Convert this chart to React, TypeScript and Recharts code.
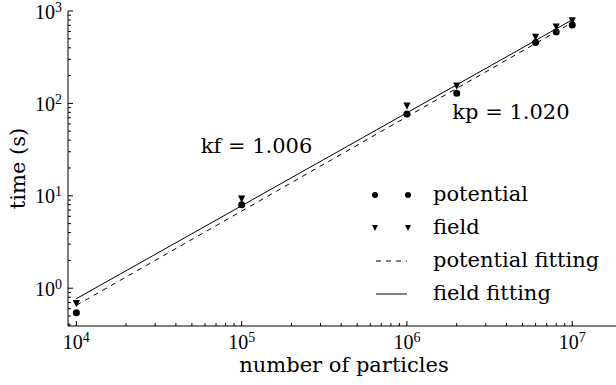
import React from 'react';
import { ComposedChart, XAxis, YAxis, Scatter, Line, Legend, ReferenceDot } from 'recharts';

// ---- data ----
const particles = [1e4, 1e5, 1e6, 2e6, 6e6, 8e6, 1e7];
const potentialTime = [0.544, 8.0, 77, 129, 456, 592, 705];
const fieldTime = [0.68, 9.2, 93.5, 154, 520, 671, 783];
const fitParticles = [1e4, 1e7];
const potentialFitTime = [0.653, 750];
const fieldFitTime = [0.77, 803];

const xMajorTicks = [1e4, 1e5, 1e6, 1e7];
const xMinorTicks = [
  9e3,
  2e4, 3e4, 4e4, 5e4, 6e4, 7e4, 8e4, 9e4,
  2e5, 3e5, 4e5, 5e5, 6e5, 7e5, 8e5, 9e5,
  2e6, 3e6, 4e6, 5e6, 6e6, 7e6, 8e6, 9e6,
  2e7,
];
const yMajorTicks = [1, 10, 100, 1000];
const yMinorTicks = [
  0.4, 0.5, 0.6, 0.7, 0.8, 0.9,
  2, 3, 4, 5, 6, 7, 8, 9,
  20, 30, 40, 50, 60, 70, 80, 90,
  200, 300, 400, 500, 600, 700, 800, 900,
];
const xDomain = [8900, 2e7];
const yDomain = [0.39, 1000];

const annotationX = [1.23e5, 4.26e6];
const annotationY = [35.3, 81.1];
const annotationText = ['kf = 1.006', 'kp = 1.020'];

const legendLabels = ['potential', 'field', 'potential fitting', 'field fitting'];

// ---- derived tables ----
const potentialData = particles.map((x, i) => ({ x, y: potentialTime[i] }));
const fieldData = particles.map((x, i) => ({ x, y: fieldTime[i] }));
const potentialFitData = fitParticles.map((x, i) => ({ x, y: potentialFitTime[i] }));
const fieldFitData = fitParticles.map((x, i) => ({ x, y: fieldFitTime[i] }));
const xTicks = [...xMajorTicks, ...xMinorTicks].sort((a, b) => a - b);
const yTicks = [...yMajorTicks, ...yMinorTicks].sort((a, b) => a - b);

const SERIF = '"DejaVu Serif", serif';
const TICKFONT = '"Liberation Serif", serif';
const TEXT_SIZE = 21;

const isMajor = (v: number) => Math.abs(Math.log10(v) - Math.round(Math.log10(v))) < 1e-6;

const Pow = ({ v }: { v: number }) => (
  <>
    <tspan>10</tspan>
    <tspan dy={-7} fontSize={14}>{Math.round(Math.log10(v))}</tspan>
  </>
);

const XTick = (props: any) => {
  const { x, y, payload } = props;
  const v = payload.value;
  const major = isMajor(v);
  const len = major ? 5 : 3;
  return (
    <g>
      <line x1={x} x2={x} y1={y} y2={y - len} stroke="#000" strokeWidth={1} />
      {major && (
        <text x={x} y={y + 23} textAnchor="middle" fontFamily={TICKFONT} fontSize={20} fill="#000">
          <Pow v={v} />
        </text>
      )}
    </g>
  );
};

const TopTick = (props: any) => {
  const { x, y, payload } = props;
  const len = isMajor(payload.value) ? 5 : 3;
  return <line x1={x} x2={x} y1={y} y2={y + len} stroke="#000" strokeWidth={1} />;
};

const YTick = (props: any) => {
  const { x, y, payload } = props;
  const v = payload.value;
  const major = isMajor(v);
  const len = major ? 5 : 3;
  return (
    <g>
      <line x1={x} x2={x + len} y1={y} y2={y} stroke="#000" strokeWidth={1} />
      {major && (
        <text x={x - 6} y={y + 7.5} textAnchor="end" fontFamily={TICKFONT} fontSize={20} fill="#000">
          <Pow v={v} />
        </text>
      )}
    </g>
  );
};

const CircleShape = (props: any) => {
  const { cx, cy } = props;
  return <circle cx={cx} cy={cy} r={3.5} fill="#000" />;
};

const TriangleShape = (props: any) => {
  const { cx, cy } = props;
  const s = 3.6;
  return <path d={`M${cx - s},${cy - s}L${cx + s},${cy - s}L${cx},${cy + s}Z`} fill="#000" />;
};

const LegendBox = () => {
  const rowY = [20, 53, 86, 119];
  const textX = 68;
  return (
    <svg width={250} height={140} style={{ overflow: 'visible' }}>
      <circle cx={10} cy={rowY[0]} r={3} fill="#000" />
      <circle cx={43} cy={rowY[0]} r={3} fill="#000" />
      <path d={`M7,${rowY[1] - 3}L13,${rowY[1] - 3}L10,${rowY[1] + 3}Z`} fill="#000" />
      <path d={`M40,${rowY[1] - 3}L46,${rowY[1] - 3}L43,${rowY[1] + 3}Z`} fill="#000" />
      <line x1={11} x2={42} y1={rowY[2]} y2={rowY[2]} stroke="#000" strokeWidth={1} strokeDasharray="5 5" />
      <line x1={11} x2={42} y1={rowY[3]} y2={rowY[3]} stroke="#000" strokeWidth={1} />
      {legendLabels.map((t, i) => (
        <text key={t} x={textX} y={rowY[i] + 6} fontFamily={SERIF} fontSize={TEXT_SIZE} fill="#000">
          {t}
        </text>
      ))}
    </svg>
  );
};

const XLabel = (props: any) => {
  const { viewBox } = props;
  const cx = viewBox.x + viewBox.width / 2;
  return (
    <text x={cx - 1} y={viewBox.y + 46} textAnchor="middle" fontFamily={SERIF} fontSize={TEXT_SIZE} fill="#000">
      number of particles
    </text>
  );
};

const YLabel = (props: any) => {
  const { viewBox } = props;
  const cy = viewBox.y + viewBox.height / 2;
  return (
    <text x={25} y={cy} textAnchor="middle" transform={`rotate(-90, 25, ${cy})`} fontFamily={SERIF} fontSize={TEXT_SIZE} fill="#000">
      time (s)
    </text>
  );
};

export default function App() {
  return (
    <div style={{ position: 'absolute', left: 0, top: 0, width: 616, height: 385, overflow: 'hidden', background: '#fff' }}>
      <ComposedChart width={630} height={385} margin={{ top: 11, right: 8, bottom: 0, left: 0 }}>
        <XAxis
          dataKey="x"
          type="number"
          scale="log"
          domain={xDomain}
          allowDataOverflow
          ticks={xTicks}
          interval={0}
          tickLine={false}
          tickSize={0}
          tickMargin={0}
          tick={<XTick />}
          height={59}
          axisLine={{ stroke: '#000', strokeWidth: 1 }}
          label={<XLabel />}
        />
        <XAxis
          xAxisId="top"
          orientation="top"
          dataKey="x"
          type="number"
          scale="log"
          domain={xDomain}
          allowDataOverflow
          ticks={xTicks}
          interval={0}
          tickLine={false}
          tickSize={0}
          tickMargin={0}
          tick={<TopTick />}
          height={0}
          axisLine={{ stroke: '#000', strokeWidth: 1 }}
        />
        <YAxis
          type="number"
          scale="log"
          domain={yDomain}
          allowDataOverflow
          ticks={yTicks}
          interval={0}
          tickLine={false}
          tickSize={0}
          tickMargin={0}
          tick={<YTick />}
          width={68}
          axisLine={{ stroke: '#000', strokeWidth: 1 }}
          label={<YLabel />}
        />
        <Line data={potentialFitData} dataKey="y" stroke="#000" strokeWidth={1} strokeDasharray="5 5" dot={false} activeDot={false} isAnimationActive={false} />
        <Line data={fieldFitData} dataKey="y" stroke="#000" strokeWidth={1} dot={false} activeDot={false} isAnimationActive={false} />
        <Scatter data={potentialData} dataKey="y" shape={<CircleShape />} isAnimationActive={false} />
        <Scatter data={fieldData} dataKey="y" shape={<TriangleShape />} isAnimationActive={false} />
        {annotationText.map((t, i) => (
          <ReferenceDot
            key={t}
            x={annotationX[i]}
            y={annotationY[i]}
            r={0}
            stroke="none"
            fill="none"
            label={{ value: t, position: 'center', fontFamily: SERIF, fontSize: TEXT_SIZE, fill: '#000' }}
          />
        ))}
        <Legend
          layout="vertical"
          align="center"
          verticalAlign="middle"
          wrapperStyle={{ left: 365, top: 175, width: 250, height: 140 }}
          content={() => <LegendBox />}
        />
      </ComposedChart>
    </div>
  );
}
